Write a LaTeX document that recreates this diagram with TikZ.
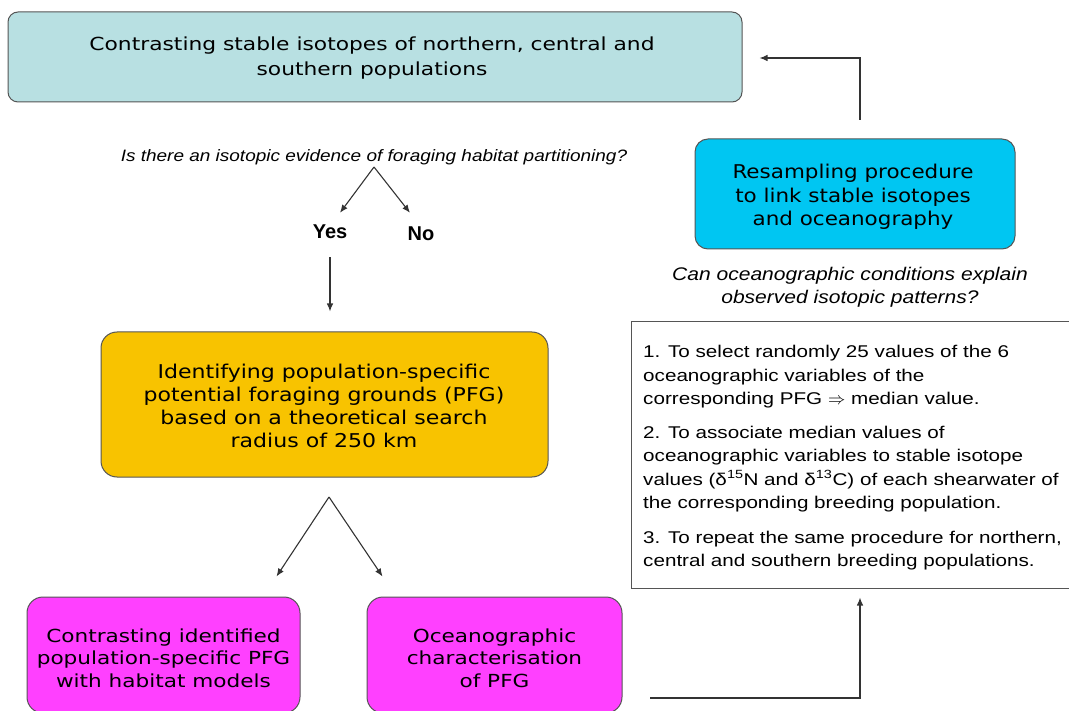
\documentclass[tikz,border=0pt]{standalone}
\usepackage{fontspec}
\setmainfont{DejaVu Sans}
\newfontfamily\topf[FakeStretch=1.21]{DejaVu Sans}
\newfontfamily\magf[FakeStretch=1.2]{DejaVu Sans}
\newfontfamily\orf[FakeStretch=1.16]{DejaVu Sans}
\newfontfamily\bluef[FakeStretch=1.13]{DejaVu Sans}
\newfontfamily\arialw[FakeStretch=1.215]{Liberation Sans}
\newfontfamily\arialq[FakeStretch=1.15]{Liberation Sans}
\newfontfamily\arial{Liberation Sans}
\usetikzlibrary{arrows.meta,calc}
\definecolor{topfill}{HTML}{B8E0E2}
\definecolor{bluefill}{HTML}{00C6F2}
\definecolor{orangefill}{HTML}{F8C300}
\definecolor{magfill}{HTML}{FF40FF}
\definecolor{edge}{HTML}{555555}
\definecolor{linec}{HTML}{333333}
\tikzset{
  box/.style={draw=edge, line width=1pt, rounded corners=13pt, inner sep=0pt},
  boxtext/.style={align=center, inner sep=0pt, text=black},
  topbox/.style={box, fill=topfill, rounded corners=10pt},
  toptext/.style={boxtext, font=\topf\fontsize{18}{25}\selectfont},
  bluebox/.style={box, fill=bluefill},
  bluetext/.style={boxtext, font=\bluef\fontsize{19}{23.5}\selectfont},
  orangebox/.style={box, fill=orangefill, rounded corners=16pt},
  orangetext/.style={boxtext, font=\orf\fontsize{19}{23}\selectfont},
  magbox/.style={box, fill=magfill, rounded corners=16pt},
  magtext/.style={boxtext, font=\magf\fontsize{18}{22.5}\selectfont},
  listbox/.style={draw=edge, line width=1pt, fill=white},
  question/.style={font=\arialq\itshape\fontsize{16.5}{23}\selectfont, align=center, inner sep=0pt},
  question2/.style={font=\arialq\itshape\fontsize{18.3}{23}\selectfont, align=center, inner sep=0pt},
  answer/.style={font=\arial\bfseries\fontsize{20}{24}\selectfont, inner sep=0pt},
  arr/.style={draw=linec, line width=1.1pt, -{Latex[length=8pt,width=6.5pt]}},
}
\begin{document}
\begin{tikzpicture}[x=1pt,y=-1pt]
\useasboundingbox (0,0) rectangle (1069,711);
\clip (0,0) rectangle (1069,711);

% top box
\node[topbox, minimum width=734pt, minimum height=90pt] (top) at (375,57) {};
\node[toptext] (toptxt) at (372,58)
  {Contrasting stable isotopes of northern, central and\\southern populations};

% question 1
\node[question] (q1) at (374,157) {Is there an isotopic evidence of foraging habitat partitioning?};
\coordinate (split1) at (374,167);
\node[answer] (yes) at (330,232) {Yes};
\node[answer] (no) at (421,234) {No};
\draw[arr] (split1) -- ($(yes.north)+(10,-12)$);
\draw[arr] (split1) -- ($(no.north)+(-11,-14)$);

% orange box
\node[orangebox, minimum width=447pt, minimum height=145pt] (orange) at (324.5,404.5) {};
\node[orangetext] (orangetxt) at (324,406)
  {Identifying population-specific\\potential foraging grounds (PFG)\\based on a theoretical search\\radius of 250 km};
\draw[arr] ($(yes.south)+(0,18)$) -- ($(orange.north -| yes)+(0,-20)$);

% magenta boxes
\node[magbox, minimum width=273pt, minimum height=116pt] (mag1) at (163.5,655) {};
\node[magtext] (mag1txt) at (163.5,658)
  {Contrasting identified\\population-specific PFG\\with habitat models};
\node[magbox, minimum width=255pt, minimum height=116pt] (mag2) at (494.5,655) {};
\node[magtext] (mag2txt) at (494.5,658)
  {Oceanographic\\characterisation\\of PFG};
\coordinate (split2) at (329,497);
\draw[arr] (split2) -- ($(mag1.north)+(113,-20)$);
\draw[arr] (split2) -- ($(mag2.north)+(-112,-20)$);

% blue box
\node[bluebox, minimum width=320pt, minimum height=110pt] (blue) at (855,194) {};
\node[bluetext] (bluetxt) at (853,197)
  {Resampling procedure\\to link stable isotopes\\ and oceanography};
\coordinate (up1) at (860,120);
\draw[arr] (up1) |- ($(top.east)+(17,1)$);

% question 2
\node[question2] (q2) at (850,287) {Can oceanographic conditions explain\\observed isotopic patterns?};

% list box
\node[listbox, minimum width=440pt, minimum height=266pt, inner sep=0pt] (list) at (851,455) {};
\node[font=\arialw\fontsize{17}{23.5}\selectfont, align=left, anchor=north west, inner sep=0pt] (listtext) at (643,345)
  {1. To select randomly 25 values of the 6\\
   oceanographic variables of the\\
   corresponding PFG $\Rightarrow$ median value.\\[10pt]
   2. To associate median values of\\
   oceanographic variables to stable isotope\\
   values (δ\textsuperscript{15}N and δ\textsuperscript{13}C) of each shearwater of\\
   the corresponding breeding population.\\[11pt]
   3. To repeat the same procedure for northern,\\
   central and southern breeding populations.};

\coordinate (start2) at (650,698);
\draw[arr] (start2) -| ($(list.south -| up1)+(0,9)$);
\end{tikzpicture}
\end{document}
